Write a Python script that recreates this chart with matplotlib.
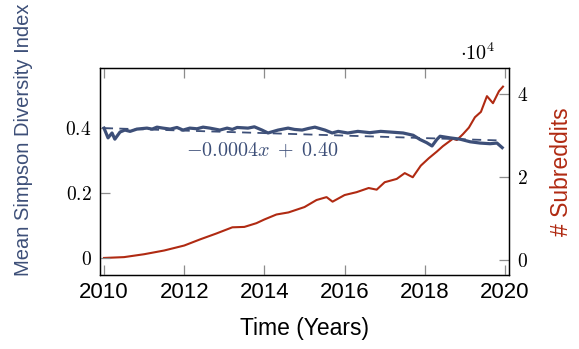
import matplotlib
matplotlib.use('Agg')
import matplotlib.pyplot as plt
from matplotlib.ticker import FixedLocator, FuncFormatter

# ---- data ----
simpson_years = [2010.00, 2010.10, 2010.20, 2010.27, 2010.40, 2010.52, 2010.65, 2010.82,
                 2011.07, 2011.20, 2011.32, 2011.47, 2011.65, 2011.82, 2011.97, 2012.14,
                 2012.32, 2012.47, 2012.64, 2012.89, 2013.07, 2013.20, 2013.32, 2013.59,
                 2013.75, 2013.94, 2014.09, 2014.34, 2014.59, 2014.75, 2014.94, 2015.10,
                 2015.26, 2015.51, 2015.69, 2015.84, 2016.08, 2016.33, 2016.63, 2016.90,
                 2017.13, 2017.46, 2017.71, 2017.88, 2018.05, 2018.18, 2018.30, 2018.38,
                 2018.63, 2018.88, 2019.13, 2019.38, 2019.63, 2019.80, 2019.93]
simpson_vals = [0.400, 0.370, 0.385, 0.366, 0.388, 0.394, 0.390, 0.397,
                0.400, 0.397, 0.403, 0.400, 0.397, 0.402, 0.394, 0.400,
                0.398, 0.403, 0.400, 0.394, 0.400, 0.396, 0.402, 0.400,
                0.404, 0.394, 0.385, 0.394, 0.400, 0.396, 0.394, 0.399,
                0.403, 0.394, 0.385, 0.390, 0.385, 0.390, 0.386, 0.390,
                0.388, 0.385, 0.378, 0.365, 0.355, 0.345, 0.365, 0.375,
                0.370, 0.366, 0.358, 0.354, 0.352, 0.354, 0.340]

subreddit_years = [2010.0, 2010.5, 2011.0, 2011.5, 2012.0, 2012.4, 2012.8, 2013.2,
                   2013.5, 2013.8, 2014.0, 2014.3, 2014.6, 2015.0, 2015.3, 2015.55,
                   2015.7, 2016.0, 2016.3, 2016.6, 2016.8, 2017.0, 2017.3, 2017.5,
                   2017.7, 2017.9, 2018.1, 2018.3, 2018.45, 2018.7, 2018.8, 2018.95,
                   2019.1, 2019.25, 2019.4, 2019.55, 2019.7, 2019.85, 2019.95]
subreddit_counts = [500, 700, 1400, 2300, 3500, 5000, 6400, 7900,
                    8000, 8900, 9800, 11000, 11500, 12800, 14500, 15200,
                    14100, 15700, 16400, 17400, 17000, 18800, 19600, 21000,
                    20000, 22800, 24600, 26200, 27500, 29300, 29000, 30400,
                    32000, 34500, 35800, 39600, 37900, 40800, 41900]

# linear fit shown as dashed line (x = months since Jan 2010)
fit_slope = -0.00032
fit_intercept = 0.40
fit_label = r'$-0.0004x\;+\;0.40$'

x_ticks = [2010, 2012, 2014, 2016, 2018, 2020]
left_ticks = [0, 0.2, 0.4]
right_ticks = [0, 20000, 40000]

BLUE = '#3d4f78'
RED = '#b02a12'
TICK_GREY = '#8c8c8c'

plt.rcParams['mathtext.fontset'] = 'cm'
plt.rcParams['font.family'] = ['Liberation Sans', 'DejaVu Sans']

fig = plt.figure(figsize=(5.79, 3.49), dpi=100)
ax = fig.add_axes([100 / 579, 1 - 275 / 349, 409 / 579, 207 / 349])
ax2 = ax.twinx()

# red: number of subreddits (right axis)
ax2.plot(subreddit_years, subreddit_counts, color=RED, lw=1.5, zorder=2)

# blue: simpson index + fit (left axis)
fit_x = [simpson_years[0], simpson_years[-1]]
fit_y = [fit_intercept + fit_slope * (yr - 2010) * 12 for yr in fit_x]
ax.plot(fit_x, fit_y, color=BLUE, lw=1.3, ls=(0, (5, 3.5)), zorder=3)
ax.plot(simpson_years, simpson_vals, color=BLUE, lw=2.3, zorder=4)
ax.set_zorder(ax2.get_zorder() + 1)
ax.patch.set_visible(False)

ax.text(2013.95, 0.333, fit_label, color=BLUE, fontsize=14.5,
        ha='center', va='center')

ax.set_xlim(2009.90, 2020.10)
ax.set_ylim(-0.052, 0.585)
ax2.set_ylim(-3620, 46400)

ax.xaxis.set_major_locator(FixedLocator(x_ticks))
ax.yaxis.set_major_locator(FixedLocator(left_ticks))
ax2.yaxis.set_major_locator(FixedLocator(right_ticks))
ax.yaxis.set_major_formatter(FuncFormatter(lambda v, p: '$%g$' % v))
ax2.yaxis.set_major_formatter(FuncFormatter(lambda v, p: '$%g$' % (v / 1e4)))

ax.tick_params(axis='x', direction='in', length=7, color=TICK_GREY, width=0.9,
               top=True, labelsize=16, pad=5)
ax.tick_params(axis='y', direction='in', length=7, color=TICK_GREY, width=0.9,
               labelsize=14, pad=6)
ax2.tick_params(axis='y', direction='in', length=7, color=TICK_GREY, width=0.9,
                labelsize=14, pad=6)

for a in (ax, ax2):
    for s in a.spines.values():
        s.set_linewidth(0.9)
        s.set_color('black')

fig.text(478 / 579, 1 - 53 / 349, r'$\cdot 10^4$', fontsize=14.5,
         ha='center', va='center')

fig.text(305 / 579, 1 - 329 / 349, 'Time (Years)', fontsize=16.5,
         ha='center', va='center')
fig.text(24 / 579, 1 - 140 / 349, 'Mean Simpson Diversity Index', fontsize=14.5,
         color=BLUE, rotation=90, ha='center', va='center')
fig.text(562 / 579, 1 - 172 / 349, '# Subreddits', fontsize=16.5,
         color=RED, rotation=90, ha='center', va='center')

fig.savefig('out.png', dpi=100)
